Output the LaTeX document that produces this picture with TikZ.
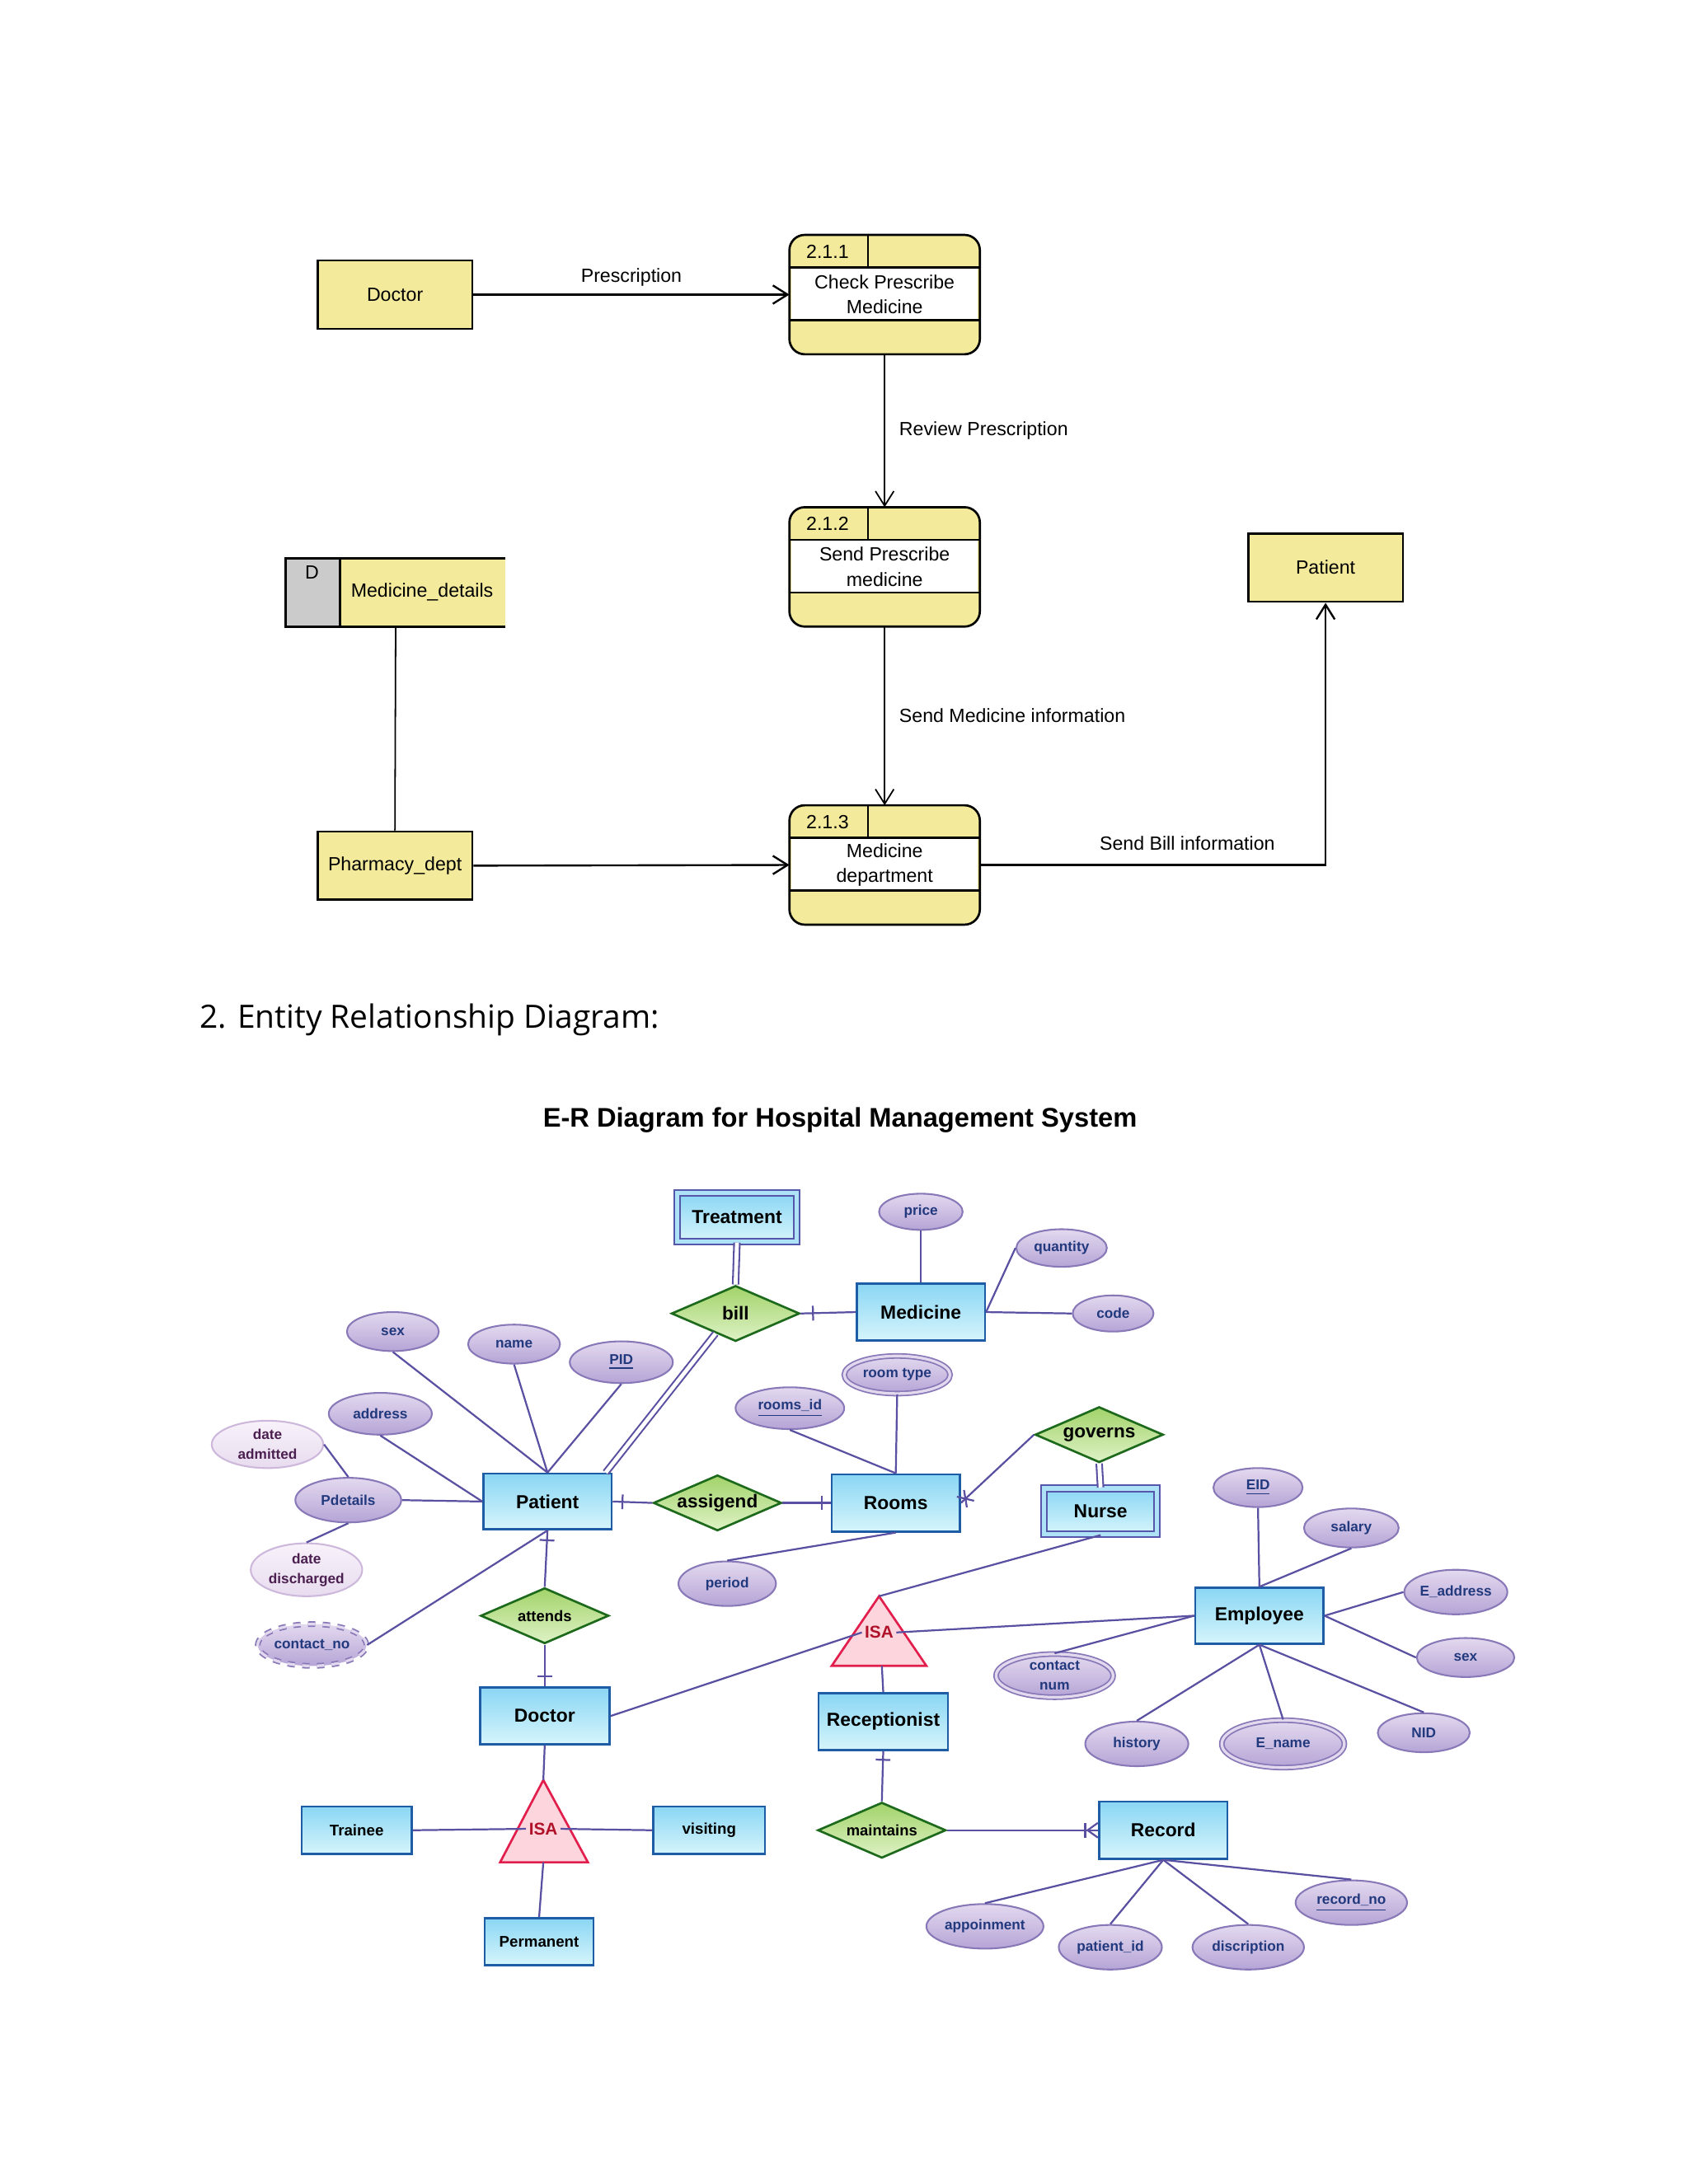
\documentclass[tikz,border=0pt]{standalone}
\usepackage{fontspec}
\setmainfont{Liberation Sans}
\newfontfamily\headfont{Open Sans}
\usetikzlibrary{shapes.geometric,arrows.meta,decorations.markings}

\definecolor{dfdYellow}{HTML}{F3EA9C}
\definecolor{storeGray}{HTML}{CBCBCB}
\definecolor{erLineColor}{HTML}{5A50A2}
\definecolor{entBorder}{HTML}{1E5CA6}
\definecolor{entTop}{HTML}{8AD6F4}
\definecolor{entBottom}{HTML}{D6F5FB}
\definecolor{weakBorder}{HTML}{5656AA}
\definecolor{attrBorder}{HTML}{8878B8}
\definecolor{attrTop}{HTML}{E3D9EF}
\definecolor{attrBottom}{HTML}{B5A4D6}
\definecolor{attrText}{HTML}{22397D}
\definecolor{lightBorder}{HTML}{CDB8DC}
\definecolor{lightTop}{HTML}{F8F2FA}
\definecolor{lightBottom}{HTML}{E8DCEF}
\definecolor{lightText}{HTML}{4B2050}
\definecolor{relBorder}{HTML}{1D6A1D}
\definecolor{relTop}{HTML}{A2D36A}
\definecolor{relBottom}{HTML}{DEF2C6}
\definecolor{isaBorder}{HTML}{E21E4C}
\definecolor{isaFill}{HTML}{FDD6DD}
\definecolor{isaText}{HTML}{B0122A}

\begin{document}
\begin{tikzpicture}
[x=0.2mm,y=-0.2mm,
  dfdText/.style={inner sep=0pt,align=center,font=\fontsize{7.8}{10.2}\selectfont},%
  dfdBox/.style={draw,line width=0.9pt,fill=dfdYellow,minimum width=22.2mm,minimum height=9.8mm,dfdText},%
  procBox/.style={fill=dfdYellow,rounded corners=2.2mm,minimum width=27.2mm,minimum height=17mm},%
  dfdLine/.style={line width=0.9pt},%
  dfdArrow/.style={-{Straight Barb[length=6pt,width=7.5pt]},line width=0.8pt},%
  entity/.style={draw=entBorder,line width=0.9pt,top color=entTop,bottom color=entBottom,font=\bfseries\fontsize{7.7}{9}\selectfont},%
  entitySmall/.style={entity,font=\bfseries\fontsize{6.3}{8}\selectfont},%
  weakEntity/.style={entity,draw=weakBorder,line width=0.7pt,double=entTop!70!white,double distance=1.8pt},%
  rel/.style={shape=diamond,aspect=2.3,draw=relBorder,line width=0.9pt,top color=relTop,bottom color=relBottom,inner sep=0pt,minimum width=18.4mm,minimum height=8mm,font=\bfseries\fontsize{7.6}{9}\selectfont},%
  relSmall/.style={rel,font=\bfseries\fontsize{6.2}{8}\selectfont},%
  attr/.style={shape=ellipse,draw=attrBorder,line width=0.7pt,top color=attrTop,bottom color=attrBottom,inner sep=0pt,align=center,text=attrText,font=\bfseries\fontsize{5.8}{8}\selectfont},%
  attrLight/.style={attr,draw=lightBorder,top color=lightTop,bottom color=lightBottom,text=lightText},%
  attrDouble/.style={attr,line width=0.6pt,double=attrTop,double distance=1.1pt},%
  attrDashed/.style={attrDouble,dashed},%
  isaShape/.style={draw=isaBorder,line width=0.9pt,fill=isaFill},%
  isaLabel/.style={inner sep=1pt,text=isaText,font=\bfseries\fontsize{7}{8}\selectfont},%
  erLine/.style={draw=erLineColor,line width=0.75pt},%
  dblLine/.style={draw=erLineColor,line width=0.7pt,double=white,double distance=1.6pt},%
  tickStart/.style={postaction={decorate,decoration={markings,mark=at position #1 with {\draw[erLine] (0,-3pt) -- (0,3pt);}}}},%
  tickEnd/.style={postaction={decorate,decoration={markings,mark=at position -#1 with {\draw[erLine] (0,-3pt) -- (0,3pt);}}}},%
  crowEnd/.style={postaction={decorate,decoration={markings,mark=at position -#1 with {\draw[erLine] (0,-3pt) -- (0,3pt);},mark=at position -0.1pt with {\draw[erLine] (-4.2pt,0) -- (0,3pt) (-4.2pt,0) -- (0,-3pt);}}}},%
  crossStart/.style={postaction={decorate,decoration={markings,mark=at position #1 with {\draw[erLine] (-2pt,-3pt) -- (2pt,3pt) (-2pt,3pt) -- (2pt,-3pt);}}}}]

\fill[white] (0,0) rectangle (1212,1568);
\useasboundingbox (0,0) rectangle (1212,1568);

%% data flow diagram
\node (docD) at (283.5,211.5) [dfdBox] {Doctor};
\node (pharm) at (283.5,621.5) [dfdBox] {Pharmacy\_dept};
\node (patD) at (951.5,407.5) [dfdBox] {Patient};

\foreach \procname/\py/\pid/\ptext in {procA/211.5/2.1.1/{Check Prescribe\\Medicine},
  procB/407/2.1.2/{Send Prescribe\\medicine}, procC/621/2.1.3/{Medicine\\department}}
{
  \node (\procname) at (635,\py) [procBox] {};
  \fill[white] (568,\py-19.5) rectangle (702,\py+18.5);
  \draw[dfdLine] (567,\py-19.5) -- (703,\py-19.5) (567,\py+18.5) -- (703,\py+18.5)
    (623,\py-42.5) -- (623,\py-19.5);
  \draw[dfdLine,rounded corners=2.2mm] (\procname.north west) rectangle (\procname.south east);
  \node (\procname-id) at (594,\py-31) [dfdText] {\pid};
  \node (\procname-txt) at (635,\py) [dfdText] {\ptext};
}

%% data store
\node (store) at (284,425.5) [minimum width=31.6mm,minimum height=9.8mm] {};
\fill[dfdYellow] (244,401) rectangle (363,450);
\fill[storeGray] (205,401) rectangle (244,450);
\draw[dfdLine] (363,401) -- (205,401) -- (205,450) -- (363,450) (244,401) -- (244,450);
\node (store-id) at (224,411) [dfdText] {D};
\node (store-txt) at (303,425) [dfdText] {Medicine\_details};

%% flows
\draw[dfdArrow] (docD.east) -- node[above=1.1mm,dfdText] (flowA) {Prescription} (procA.west);
\draw[dfdArrow,line width=0.6pt] (procA.south) -- node[right=2mm,dfdText] (flowB) {Review Prescription} (procB.north);
\draw[dfdArrow,line width=0.6pt] (procB.south) -- node[right=2mm,dfdText] (flowC) {Send Medicine information} (procC.north);
\draw[line width=0.6pt] (store.south) -- (pharm.north);
\draw[dfdArrow] (pharm.east) -- (procC.west);
\draw[dfdArrow] (procC.east) -| node[pos=0.3,above=2mm,dfdText] (flowD) {Send Bill information} (patD.south);

%% headings
\node (erHead) at (143,732) [anchor=west,inner sep=0pt,font=\headfont\fontsize{13.1}{15}\selectfont] {2. Entity Relationship Diagram:};
\node (erTitle) at (603,804) [font=\bfseries\fontsize{11}{13}\selectfont] {E-R Diagram for Hospital Management System};

%% entities
\foreach \nodename/\x/\y/\w/\h/\kind/\txt in {treat/529/874/86/35/weakEntity/Treatment,
  nurse/790/1085/81/33/weakEntity/Nurse, med/661/942/92/41/entity/Medicine,
  pat/393/1078/92/40/entity/Patient, rooms/643/1079/92/41/entity/Rooms,
  emp/904/1160/92/40/entity/Employee, doc/391/1232/93/41/entity/Doctor,
  recep/634/1236/92/41/entity/Receptionist, rec/835/1314/92/41/entity/Record,
  trainee/256/1314/79/34/entitySmall/Trainee, visit/509/1314/80/34/entitySmall/visiting,
  perm/387/1394/78/34/entitySmall/Permanent}
{
  \node (\nodename) at (\x,\y) [\kind,minimum width=\w*0.2mm,minimum height=\h*0.2mm] {\txt};
}

%% relationships
\foreach \nodename/\x/\y/\kind/\txt in {bill/528/943/rel/bill, assig/515/1079/rel/assigend,
  gov/789/1030/rel/governs, att/391/1160/relSmall/attends, maint/633/1314/relSmall/maintains}
{
  \node (\nodename) at (\x,\y) [\kind] {\txt};
}

%% attributes
\foreach \nodename/\x/\y/\w/\h/\kind/\txt in {price/661/870/60/26/attr/price,
  qty/762/896/65/27/attr/quantity, code/799/943/58/26/attr/code,
  psex/282/956/66/28/attr/sex, pname/369/965/66/28/attr/name,
  pid/446/978/74/30/attr/\underline{PID}, addr/273/1015/74/30/attr/address,
  dadm/192/1037/80/34/attrLight/{date\\admitted}, pdet/250/1077/76/32/attr/Pdetails,
  ddis/220/1127/80/38/attrLight/{date\\discharged}, pcont/224/1181/78/30/attrDashed/contact\_no,
  rid/567/1011/78/30/attr/\underline{rooms\_id}, rtype/644/987/76/27/attrDouble/{room type},
  period/522/1137/70/32/attr/period, ecnum/757/1203/84/31/attrDouble/{contact\\num},
  eid/903/1068/64/28/attr/\underline{EID}, salary/970/1097/68/28/attr/salary,
  eaddr/1045/1143/74/32/attr/E\_address, esex/1052/1190/70/28/attr/sex,
  nid/1022/1244/66/28/attr/NID, ename/921/1252/88/34/attrDouble/E\_name,
  hist/816/1252/74/32/attr/history, appt/707/1383/84/32/attr/appoinment,
  patid/797/1398/74/32/attr/patient\_id, descr/896/1398/80/32/attr/discription,
  recno/970/1366/80/32/attr/\underline{record\_no}}
{
  \node (\nodename) at (\x,\y) [\kind,minimum width=\w*0.2mm,minimum height=\h*0.2mm] {\txt};
}

%% isa triangles
\draw[isaShape] (631,1146) -- (665,1196) -- (597,1196) -- cycle;
\node (isaE) at (631,1172) [isaLabel] {ISA};
\coordinate (isaE-top) at (631,1146);
\coordinate (isaE-base) at (633,1196);
\draw[isaShape] (390,1278) -- (422,1337) -- (359,1337) -- cycle;
\node (isaD) at (390,1313) [isaLabel] {ISA};
\coordinate (isaD-top) at (390,1278);
\coordinate (isaD-base) at (390,1337);
\coordinate (patBill) at ([xshift=-1mm]pat.north east);

%% plain lines
\path
\foreach \startnode/\endnode in {price.south/med.north, qty.west/med.east, code.west/med.east,
  psex.south/pat.north, pname.south/pat.north, pid.south/pat.north, addr.south/pat.west,
  pdet.east/pat.west, dadm.east/pdet.north, ddis.north/pdet.south, pcont.east/pat.south,
  rid.south/rooms.north, rtype.south/rooms.north, rooms.south/period.north,
  nurse.south/isaE-top, isaE.west/doc.east, isaE.east/emp.west, ecnum.north/emp.west,
  isaE-base/recep.north, eid.south/emp.north, salary.south/emp.north, eaddr.west/emp.east,
  esex.west/emp.east, hist.north/emp.south, ename.north/emp.south, nid.north/emp.south,
  rec.south/appt.north, rec.south/patid.north, rec.south/descr.north, rec.south/recno.north,
  doc.south/isaD-top, isaD.west/trainee.east, isaD.east/visit.west, isaD-base/perm.north}
{
  (\startnode) edge[erLine] (\endnode)
}
%% lines with cardinality marks
\foreach \startnode/\endnode/\endstyle/\pos in {bill.east/med.west/tickStart/5pt,
  pat.east/assig.west/tickStart/4pt, assig.east/rooms.west/tickEnd/3.5pt,
  pat.south/att.north/tickStart/4pt, att.south/doc.north/tickEnd/4pt,
  recep.south/maint.north/tickStart/3.5pt, maint.east/rec.west/crowEnd/5.3pt,
  rooms.east/gov.west/crossStart/2.5pt}
{
  (\startnode) edge[erLine,\endstyle=\pos] (\endnode)
}
%% double lines
\foreach \startnode/\endnode in {treat.south/bill.north, bill.225/patBill, gov.south/nurse.north}
{
  (\startnode) edge[dblLine] (\endnode)
};
\end{tikzpicture}
\end{document}
